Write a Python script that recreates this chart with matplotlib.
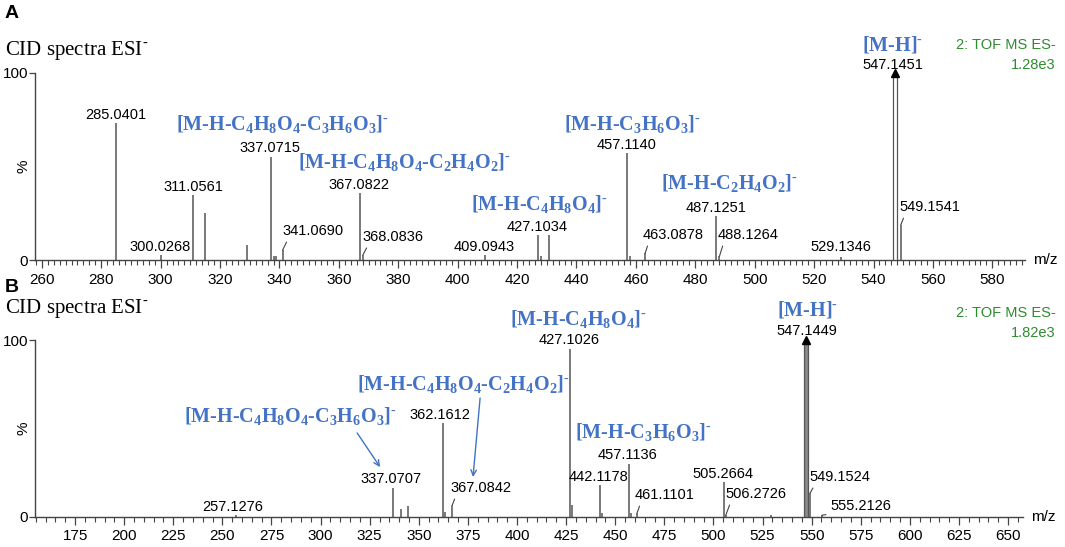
import matplotlib.pyplot as plt
from matplotlib.ticker import MultipleLocator

plt.rcParams['font.family'] = ['Liberation Sans', 'DejaVu Sans']
plt.rcParams['mathtext.fontset'] = 'custom'
plt.rcParams['mathtext.rm'] = 'Liberation Serif'
plt.rcParams['mathtext.bf'] = 'Liberation Serif:bold'

# ---- panel A data ----
mz_a = [285.0401, 300.0268, 311.0561, 315.0, 329.0, 337.0715, 338.0, 338.9, 341.0690,
        367.0822, 368.0836, 409.0943, 427.1034, 428.1, 430.9, 457.1140, 458.0, 463.0878,
        487.1251, 488.1264, 529.1346, 547.1451, 549.1541]
int_a = [73.3, 2.7, 34.8, 25.1, 8.0, 55.0, 2.0, 2.0, 5.3,
         35.8, 2.7, 2.7, 13.4, 2.0, 13.4, 57.0, 2.0, 3.5,
         23.5, 2.0, 1.8, 100, 18.7]
base_a = 547.1451

lab_a = ['285.0401', '300.0268', '311.0561', '337.0715', '341.0690', '367.0822', '368.0836',
         '409.0943', '427.1034', '457.1140', '463.0878', '487.1251', '488.1264', '529.1346',
         '549.1541', '547.1451']
labx_a = [285.0, 299.8, 310.9, 336.8, 341.0, 366.8, 368.0, 408.8, 426.7, 456.7, 462.3,
          487.0, 487.6, 529.0, 548.6, 546.5]
laby_a = [77.5, 7.0, 39.0, 59.9, 15.5, 40.1, 12.3, 7.0, 17.6, 61.5, 13.4, 27.8, 13.4, 7.0,
          28.3, 104.3]
lead_a = ['341.0690', '368.0836', '463.0878', '488.1264', '549.1541']

# ---- panel B data ----
mz_b = [257.1276, 337.0707, 341.0, 344.5, 362.1612, 363.2, 367.0842, 427.1026, 428.1,
        442.1178, 443.1, 457.1136, 458.1, 461.1101, 505.2664, 506.2726, 529.3, 547.1449,
        549.1524, 555.2126]
int_b = [1.0, 16.6, 4.3, 6.2, 52.9, 3.0, 6.8, 95.0, 6.8,
         18.0, 2.0, 30.0, 2.0, 2.3, 19.8, 1.0, 1.0, 100,
         13.4, 1.0]
base_b = 547.1449

lab_b = ['257.1276', '337.0707', '362.1612', '367.0842', '427.1026', '442.1178', '457.1136',
         '461.1101', '505.2664', '506.2726', '549.1524', '555.2126', '547.1449']
labx_b = [255.4, 335.9, 360.8, 365.9, 426.5, 441.3, 456.5, 460.1, 504.9, 505.9, 548.7,
          559.4, 547.7]
laby_b = [5.6, 21.5, 57.6, 16.4, 100.0, 22.6, 35.0, 12.4, 24.3, 13.0, 22.6, 6.2, 105.0]
lead_b = ['367.0842', '461.1101', '506.2726', '549.1524', '555.2126']

# ---- fragment labels ----
SUP = r'$^{\text{-}}$'
f1 = r'[M-H-C$_\mathbf{4}$H$_\mathbf{8}$O$_\mathbf{4}$-C$_\mathbf{3}$H$_\mathbf{6}$O$_\mathbf{3}$]' + SUP
f2 = r'[M-H-C$_\mathbf{4}$H$_\mathbf{8}$O$_\mathbf{4}$-C$_\mathbf{2}$H$_\mathbf{4}$O$_\mathbf{2}$]' + SUP
f3 = r'[M-H-C$_\mathbf{4}$H$_\mathbf{8}$O$_\mathbf{4}$]' + SUP
f4 = r'[M-H-C$_\mathbf{3}$H$_\mathbf{6}$O$_\mathbf{3}$]' + SUP
f5 = r'[M-H-C$_\mathbf{2}$H$_\mathbf{4}$O$_\mathbf{2}$]' + SUP
fmh = r'[M-H]' + SUP

blue_a = [f1, f2, f3, f4, f5, fmh]
bx_a = [340.9, 382.2, 427.7, 458.7, 491.6, 546.5]
by_a = [72.2, 51.9, 29.4, 72.2, 40.6, 115.0]

blue_b = [f1, f2, f3, f4, fmh]
bx_b = [284.5, 372.5, 431.1, 464.5, 547.7]
by_b = [56.5, 74.6, 111.3, 47.5, 117.0]
# arrows (from, to) for the two B labels
arr_b = [((318.6, 47.5), (330.3, 28.2)), ((381.2, 67.2), (377.6, 22.6))]

BLUE = '#4472c4'
GREEN = '#2e8b2e'
PEAK = '#555555'


def style(ax, xlim, major, minor):
    ax.set_xlim(*xlim)
    ax.set_ylim(0, 100)
    for s in ['top', 'right']:
        ax.spines[s].set_visible(False)
    for s in ['left', 'bottom']:
        ax.spines[s].set_color('#444444')
        ax.spines[s].set_linewidth(1.0)
    ax.xaxis.set_major_locator(MultipleLocator(major))
    ax.xaxis.set_minor_locator(MultipleLocator(minor))
    ax.set_yticks([0, 100])
    ax.tick_params(axis='x', which='major', length=6, width=0.9, color='#444444',
                   labelsize=11, pad=3)
    ax.tick_params(axis='x', which='minor', length=3.5, width=0.8, color='#444444')
    ax.tick_params(axis='y', length=4, width=0.9, color='#444444', labelsize=11, pad=1)
    ax.text(1.008, 0.0, 'm/z', transform=ax.transAxes, fontsize=11, va='center', ha='left')
    ax.text(-0.012, 0.5, '%', transform=ax.transAxes, fontsize=11, rotation=90,
            va='center', ha='center')


def peaks(ax, mz, inten, base, width, face):
    for m, h in zip(mz, inten):
        if m == base:
            ax.bar(m, h, width=width, facecolor=face, edgecolor=PEAK, linewidth=0.9, zorder=3)
            ax.plot(m, h, marker='^', color='black', ms=6, clip_on=False, zorder=4)
        else:
            ax.vlines(m, 0, h, color=PEAK, lw=1.1, zorder=2)


def labels(ax, mz, inten, labs, lx, ly, leads):
    for t, x, y in zip(labs, lx, ly):
        if t in leads:
            i = min(range(len(mz)), key=lambda k: abs(mz[k] - float(t)))
            ax.annotate(t, xy=(mz[i], inten[i]), xytext=(x, y), ha='left', va='center',
                        fontsize=10.5, annotation_clip=False,
                        arrowprops=dict(arrowstyle='-', color='#444444', lw=0.8,
                                        shrinkA=1, shrinkB=0, relpos=(0.1, 0.0)))
        else:
            ax.text(x, y, t, ha='center', va='center', fontsize=10.5, clip_on=False)


def blues(ax, labs, bx, by):
    for t, x, y in zip(labs, bx, by):
        ax.text(x, y, t, ha='center', va='center', fontsize=14.5, color=BLUE,
                family='Liberation Serif', fontweight='bold', clip_on=False)


fig = plt.figure(figsize=(10.65, 5.47), dpi=100)
axA = fig.add_axes([35 / 1065, 287 / 547, 990 / 1065, 187 / 547])
axB = fig.add_axes([35 / 1065, 30 / 547, 988 / 1065, 177 / 547])

style(axA, (257.7, 591.0), 20, 2)
style(axB, (154.6, 657.6), 25, 5)

peaks(axA, mz_a, int_a, base_a, 1.2, 'white')
peaks(axB, mz_b, int_b, base_b, 1.7, '#8a8a8a')

labels(axA, mz_a, int_a, lab_a, labx_a, laby_a, lead_a)
labels(axB, mz_b, int_b, lab_b, labx_b, laby_b, lead_b)

blues(axA, blue_a, bx_a, by_a)
blues(axB, blue_b, bx_b, by_b)

for (p0, p1) in arr_b:
    axB.annotate('', xy=p1, xytext=p0, annotation_clip=False,
                 arrowprops=dict(arrowstyle='->', color=BLUE, lw=1.0, shrinkA=0, shrinkB=0))

# panel letters, titles and instrument info
fig.text(5 / 1065, 1 - 14 / 547, 'A', fontsize=14, fontweight='bold', va='center')
fig.text(5 / 1065, 1 - 287 / 547, 'B', fontsize=14, fontweight='bold', va='center')
for yc in [51, 309]:
    fig.text(5 / 1065, 1 - yc / 547, 'CID spectra ESI' + SUP, fontsize=15,
             family='Liberation Serif', va='center')
for yc, scale in [(45, '1.28e3'), (313, '1.82e3')]:
    fig.text(1056 / 1065, 1 - yc / 547, '2: TOF MS ES-', fontsize=10.5, color=GREEN,
             ha='right', va='center')
    fig.text(1056 / 1065, 1 - (yc + 20) / 547, scale, fontsize=10.5, color=GREEN,
             ha='right', va='center')

plt.savefig('out.png', dpi=100)
